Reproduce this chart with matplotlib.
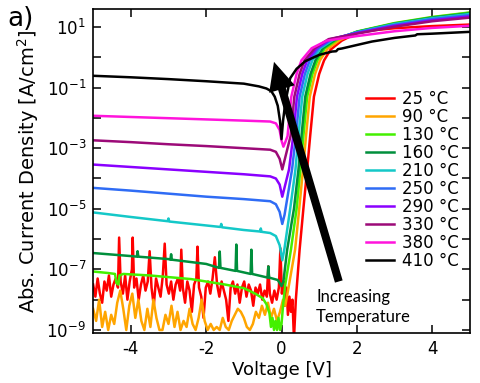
import math
import matplotlib
matplotlib.use('Agg')
import matplotlib.pyplot as plt
from matplotlib.ticker import FixedLocator, FuncFormatter, NullLocator

plt.rcParams['font.family'] = ['DejaVu Sans']
plt.rcParams['mathtext.fontset'] = 'dejavusans'
plt.rcParams['axes.unicode_minus'] = False

# temperature labels and colours (legend order)
labels = ['25 °C', '90 °C', '130 °C', '160 °C', '210 °C',
          '250 °C', '290 °C', '330 °C', '380 °C', '410 °C']
colors = ['#ff0000', '#ffa500', '#44f000', '#008f3c', '#14c8c8',
          '#2f6cf5', '#8a00ff', '#9c0a78', '#ff14dc', '#000000']

# ---- values: voltage [V] and log10 |J| [A/cm2] ----
v_25 = [-5.00, -4.94, -4.88, -4.82, -4.76, -4.70, -4.64, -4.58, -4.52, -4.46,
        -4.40, -4.34, -4.31, -4.27, -4.21, -4.15, -4.09, -4.03, -3.97, -3.95,
        -3.91, -3.85, -3.79, -3.73, -3.67, -3.61, -3.55, -3.50, -3.45, -3.39,
        -3.33, -3.27, -3.21, -3.15, -3.10, -3.05, -2.99, -2.93, -2.87, -2.81,
        -2.75, -2.69, -2.66, -2.62, -2.56, -2.50, -2.44, -2.38, -2.32, -2.26,
        -2.23, -2.19, -2.13, -2.07, -2.01, -1.95, -1.89, -1.83, -1.77, -1.71,
        -1.65, -1.59, -1.53, -1.47, -1.41, -1.35, -1.29, -1.23, -1.17, -1.11,
        -1.05, -0.99, -0.93, -0.87, -0.81, -0.75, -0.69, -0.63, -0.57, -0.51,
        -0.45, -0.39, -0.35, -0.31, -0.25, -0.19, -0.13, -0.07, -0.03, 0.01,
        0.05, 0.09, 0.13, 0.17, 0.21, 0.25, 0.29, 0.33, 0.38, 0.48,
        0.58, 0.68, 0.76, 0.86, 1.00, 1.13, 1.30, 1.60, 2.00, 2.50,
        3.00, 4.00, 5.00]
lg_25 = [-7.5, -7.9, -7.3, -7.8, -8.1, -7.4, -7.7, -7.2, -7.9, -7.5,
         -7.3, -7.6, -5.95, -7.4, -7.8, -7.2, -8.0, -7.4, -7.0, -5.95,
         -7.6, -7.3, -8.0, -7.5, -7.2, -7.7, -7.4, -6.4, -7.6, -8.2,
         -7.3, -7.6, -7.9, -7.2, -6.15, -7.5, -7.8, -7.4, -8.0, -7.5,
         -7.3, -7.7, -6.35, -7.6, -8.1, -7.4, -7.7, -8.4, -7.5, -7.3,
         -6.25, -7.6, -7.9, -8.6, -7.6, -7.4, -7.8, -7.3, -6.6, -7.5,
         -7.9, -7.4, -7.7, -8.0, -8.7, -7.6, -7.4, -7.8, -7.5, -8.1,
         -7.6, -7.4, -7.9, -7.5, -7.7, -8.2, -7.6, -7.8, -7.5, -8.0,
         -7.7, -7.9, -6.9, -7.8, -8.1, -7.7, -8.0, -7.6, -6.3, -7.8,
         -7.4, -8.2, -7.6, -8.5, -7.9, -8.4, -8.0, -9.3, -8.0, -6.35,
         -5.0, -3.7, -2.6, -1.3, -0.55, -0.1, 0.25, 0.55, 0.80, 0.90,
         0.96, 1.03, 1.08]

v_90 = [-5.00, -4.92, -4.84, -4.76, -4.68, -4.60, -4.52, -4.44, -4.36, -4.28,
        -4.20, -4.12, -4.04, -3.96, -3.88, -3.80, -3.72, -3.64, -3.56, -3.48,
        -3.40, -3.32, -3.24, -3.16, -3.08, -3.00, -2.92, -2.84, -2.76, -2.68,
        -2.60, -2.52, -2.44, -2.36, -2.28, -2.20, -2.12, -2.04, -1.96, -1.88,
        -1.80, -1.72, -1.64, -1.56, -1.48, -1.40, -1.32, -1.24, -1.16, -1.08,
        -1.00, -0.92, -0.84, -0.76, -0.68, -0.60, -0.52, -0.44, -0.36, -0.28,
        -0.20, -0.12, -0.04, 0.04, 0.10, 0.20, 0.36, 0.47, 0.57, 0.65,
        0.75, 0.89, 1.02, 1.22, 1.55, 2.00, 3.00, 4.00, 5.00]
lg_90 = [-8.3, -8.7, -8.0, -8.9, -8.4, -9.0, -8.5, -8.8, -8.1, -7.7,
         -8.3, -9.0, -8.2, -7.8, -8.6, -8.0, -8.7, -9.0, -8.3, -8.9,
         -8.0, -8.6, -9.0, -9.0, -8.5, -8.8, -8.2, -8.9, -8.4, -9.0,
         -8.7, -8.9, -8.3, -8.8, -9.0, -8.6, -8.0, -8.7, -9.0, -8.8,
         -9.0, -8.9, -9.0, -8.6, -8.9, -9.0, -8.7, -8.5, -8.3, -8.4,
         -8.6, -8.9, -9.0, -8.8, -8.4, -8.6, -8.2, -8.5, -8.1, -8.6,
         -8.3, -8.7, -8.4, -8.0, -8.2, -7.5, -6.35, -5.0, -3.7, -2.6,
         -1.3, -0.55, -0.1, 0.28, 0.57, 0.84, 1.12, 1.32, 1.47]

v_130 = [-5.00, -4.60, -4.42, -4.38, -4.33, -4.30, -4.20, -3.50, -2.40, -1.50,
         -1.00, -0.70, -0.50, -0.40, -0.32, -0.28, -0.24, -0.20, -0.16, -0.12,
         -0.08, -0.04, 0.00, 0.04, 0.10, 0.25, 0.40, 0.50, 0.58, 0.68,
         0.82, 0.95, 1.15, 1.50, 2.00, 3.00, 4.00, 5.00]
lg_130 = [-7.07, -7.12, -7.15, -7.45, -7.50, -7.20, -7.15, -7.20, -7.32, -7.50,
          -7.62, -7.80, -7.95, -8.15, -8.45, -8.90, -8.60, -9.00, -8.70, -9.00,
          -8.60, -9.00, -8.80, -8.20, -7.50, -6.35, -5.00, -3.70, -2.60, -1.30,
          -0.55, -0.10, 0.30, 0.60, 0.85, 1.13, 1.33, 1.48]

v_160 = [-5.00, -4.00, -3.84, -3.82, -3.80, -3.00, -2.95, -2.93, -2.91, -2.00,
         -1.66, -1.64, -1.62, -1.22, -1.20, -1.18, -0.82, -0.80, -0.78, -0.37,
         -0.35, -0.33, -0.10, 0.00, 0.05, 0.15, 0.33, 0.45, 0.53, 0.63,
         0.77, 0.90, 1.10, 1.45, 2.00, 3.00, 4.00, 5.00]
lg_160 = [-6.46, -6.56, -6.58, -6.40, -6.58, -6.66, -6.68, -6.50, -6.68, -6.82,
          -6.95, -6.41, -6.95, -7.05, -6.18, -7.05, -7.15, -6.35, -7.15, -7.27,
          -6.90, -7.27, -7.35, -7.55, -7.40, -6.35, -5.00, -3.70, -2.60, -1.30,
          -0.55, -0.10, 0.30, 0.60, 0.84, 1.11, 1.31, 1.45]

v_210 = [-5.00, -4.00, -3.02, -3.00, -2.98, -2.00, -1.62, -1.60, -1.58, -1.00,
         -0.57, -0.55, -0.53, -0.30, -0.15, -0.05, 0.02, 0.08, 0.23, 0.37,
         0.45, 0.55, 0.69, 0.82, 1.03, 1.40, 2.00, 3.00, 4.00, 5.00]
lg_210 = [-5.12, -5.27, -5.41, -5.32, -5.42, -5.55, -5.60, -5.50, -5.61, -5.70,
          -5.75, -5.65, -5.76, -5.80, -5.90, -6.20, -6.70, -6.30, -5.00, -3.70,
          -2.60, -1.30, -0.55, -0.10, 0.30, 0.60, 0.83, 1.10, 1.29, 1.43]

v_250 = [-5.00, -4.00, -3.00, -2.00, -1.00, -0.30, -0.15, -0.05, 0.02, 0.08,
         0.16, 0.28, 0.38, 0.48, 0.62, 0.75, 0.98, 1.35, 2.00, 3.00,
         4.00, 5.00]
lg_250 = [-4.31, -4.40, -4.50, -4.60, -4.68, -4.75, -4.85, -5.10, -5.50, -5.20,
          -4.60, -3.70, -2.60, -1.30, -0.55, -0.10, 0.30, 0.60, 0.82, 1.07,
          1.26, 1.39]

v_290 = [-5.00, -4.00, -3.00, -2.00, -1.00, -0.30, -0.15, -0.05, 0.02, 0.08,
         0.20, 0.31, 0.41, 0.55, 0.68, 0.93, 1.30, 2.00, 3.00, 4.00,
         5.00]
lg_290 = [-3.54, -3.62, -3.70, -3.78, -3.86, -3.93, -4.00, -4.20, -4.60, -4.30,
          -3.70, -2.60, -1.30, -0.55, -0.10, 0.30, 0.60, 0.80, 1.04, 1.22,
          1.35]

v_330 = [-5.00, -4.00, -3.00, -2.00, -1.00, -0.30, -0.15, -0.05, 0.02, 0.10,
         0.24, 0.34, 0.48, 0.61, 0.88, 1.25, 2.00, 3.00, 4.00, 5.00]
lg_330 = [-2.74, -2.80, -2.87, -2.93, -3.00, -3.05, -3.12, -3.35, -3.70, -3.30,
          -2.60, -1.30, -0.55, -0.10, 0.30, 0.60, 0.78, 1.01, 1.19, 1.31]

v_380 = [-5.00, -4.00, -3.00, -2.00, -1.00, -0.30, -0.15, -0.05, 0.00, 0.05,
         0.10, 0.16, 0.26, 0.40, 0.53, 0.80, 1.20, 2.00, 3.00, 4.00,
         5.00]
lg_380 = [-1.93, -1.97, -2.01, -2.05, -2.09, -2.12, -2.18, -2.40, -2.75, -2.95,
          -2.80, -2.60, -1.30, -0.55, -0.10, 0.30, 0.55, 0.70, 0.86, 0.97,
          1.04]

v_410 = [-5.00, -4.00, -3.00, -2.00, -1.00, -0.60, -0.40, -0.27, -0.18, -0.10,
         -0.04, 0.00, 0.04, 0.10, 0.23, 0.40, 0.63, 1.00, 1.34, 1.45,
         1.50, 1.60, 2.05, 2.40, 3.00, 3.55, 3.60, 4.00, 5.00]
lg_410 = [-0.61, -0.66, -0.72, -0.79, -0.87, -0.96, -1.03, -1.12, -1.30, -1.60,
          -2.10, -2.70, -2.10, -1.50, -0.69, -0.38, -0.13, 0.08, 0.19, 0.20,
          0.27, 0.29, 0.42, 0.52, 0.64, 0.72, 0.76, 0.78, 0.84]

voltages = [v_25, v_90, v_130, v_160, v_210, v_250, v_290, v_330, v_380, v_410]
log_j = [lg_25, lg_90, lg_130, lg_160, lg_210, lg_250, lg_290, lg_330, lg_380, lg_410]

y_exponents = list(range(-9, 2))

fig = plt.figure(figsize=(4.8, 3.83), dpi=100)
ax = fig.add_axes([0.194, 0.1305, 0.785, 0.846])

for v, lg, lab, col in zip(voltages, log_j, labels, colors):
    ax.plot(v, [10.0 ** e for e in lg], color=col, lw=1.8, label=lab)

ax.set_yscale('log')
ax.set_xlim(-5, 5)
ax.set_ylim(10 ** -9.1, 10 ** 1.594)

ax.xaxis.set_major_locator(FixedLocator([-4, -2, 0, 2, 4]))
ax.xaxis.set_minor_locator(NullLocator())
ax.yaxis.set_major_locator(FixedLocator([10.0 ** e for e in y_exponents]))
ax.yaxis.set_minor_locator(NullLocator())


def ylab(val, pos):
    e = int(round(math.log10(val)))
    return r'$10^{%d}$' % e if e % 2 else ''


ax.yaxis.set_major_formatter(FuncFormatter(ylab))
ax.tick_params(direction='in', length=6, width=1.1, top=True, right=True,
               labelsize=12, pad=5)
for s in ax.spines.values():
    s.set_linewidth(1.2)

ax.set_xlabel('Voltage [V]', fontsize=13, labelpad=2)
ax.set_ylabel('Abs. Current Density [A/cm$^2$]', fontsize=14, labelpad=4)

leg = ax.legend(loc='upper left', bbox_to_anchor=(366 / 480, 1 - 90 / 383),
                bbox_transform=fig.transFigure, frameon=False, fontsize=12,
                handlelength=1.7, handletextpad=0.45, labelspacing=0.0,
                borderpad=0, borderaxespad=0)

ax.annotate('', xy=(-0.2, 10 ** -0.15), xytext=(1.52, 10 ** -7.4),
            arrowprops=dict(arrowstyle='simple,tail_width=0.24,head_width=0.8,head_length=0.85',
                            color='k', lw=0, mutation_scale=24,
                            shrinkA=0, shrinkB=0))

ax.text(0.592, 0.08, 'Increasing\nTemperature', transform=ax.transAxes,
        fontsize=12, family=['Lato', 'DejaVu Sans'], va='center', ha='left',
        linespacing=1.35)

fig.text(7 / 480, 1 - 19 / 383, 'a)', fontsize=19, va='center', ha='left')

fig.savefig('out.png', dpi=100)
